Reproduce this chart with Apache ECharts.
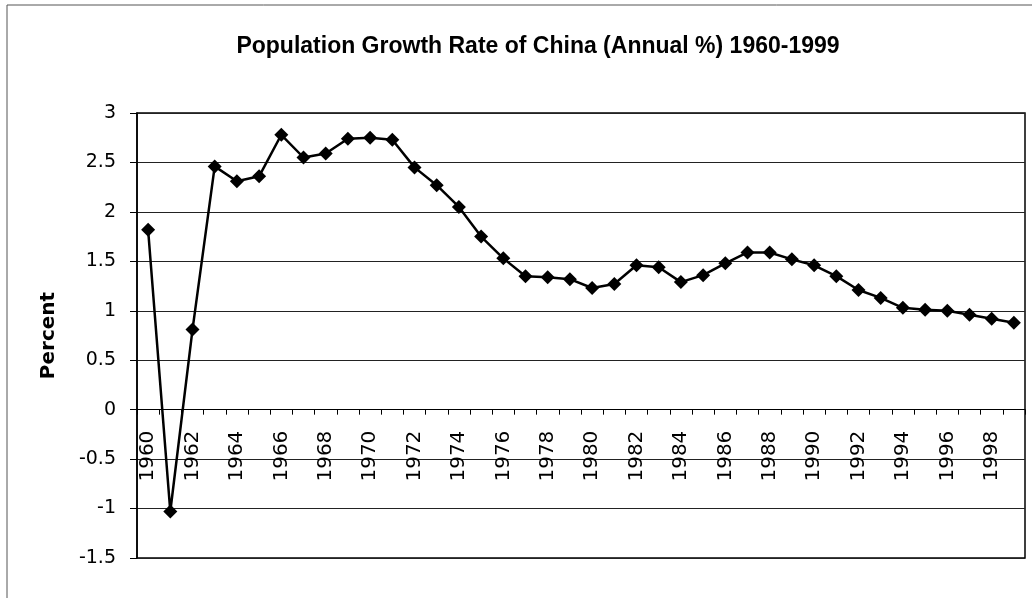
<!DOCTYPE html>
<html>
<head>
<meta charset="utf-8">
<script src="https://cdn.jsdelivr.net/npm/echarts@6/dist/echarts.min.js"></script>
<style>
html,body{margin:0;padding:0;background:#fff;}
#chart{width:1032px;height:598px;}
</style>
</head>
<body>
<div id="chart"></div>
<script>
const years = ['1960','1961','1962','1963','1964','1965','1966','1967','1968','1969',
  '1970','1971','1972','1973','1974','1975','1976','1977','1978','1979',
  '1980','1981','1982','1983','1984','1985','1986','1987','1988','1989',
  '1990','1991','1992','1993','1994','1995','1996','1997','1998','1999'];
const growthRate = [1.82,-1.03,0.81,2.46,2.31,2.36,2.78,2.55,2.59,2.74,
  2.75,2.73,2.45,2.27,2.05,1.75,1.53,1.35,1.34,1.32,
  1.23,1.27,1.46,1.44,1.29,1.36,1.48,1.59,1.59,1.52,
  1.46,1.35,1.21,1.13,1.03,1.01,1.00,0.96,0.92,0.88];
const titleText = 'Population Growth Rate of China (Annual %) 1960-1999';
const yAxisTitle = 'Percent';

const gridTop = 113, gridBottom = 40, H = 598;
const yMin = -1.5, yMax = 3;
// place x axis at value 0 via offset
const plotH = H - gridTop - gridBottom;
const zeroOffset = -plotH * (0 - yMin) / (yMax - yMin);

const chart = echarts.init(document.getElementById('chart'), null, {renderer:'canvas'});
chart.setOption({
  animation: false,
  backgroundColor: '#fff',
  title: {
    text: titleText,
    left: 533, top: 30, textAlign: 'center',
    textStyle: {fontFamily: 'Liberation Sans', fontWeight: 'bold', fontSize: 23, color: '#000'}
  },
  graphic: [{
    type: 'rect', shape: {x: 7, y: 5, width: 1040, height: 620},
    style: {fill: 'none', stroke: '#555', lineWidth: 1}, silent: true
  }],
  grid: {left: 137, right: 7, top: gridTop, bottom: gridBottom, containLabel: false, outerBoundsMode: 'none',
    show: true, borderColor: '#000', borderWidth: 1.5},
  xAxis: {
    type: 'category', data: years, boundaryGap: true, position: 'bottom', offset: zeroOffset,
    axisLine: {onZero: false, lineStyle: {color: '#000', width: 1.2}},
    axisTick: {show: true, interval: 0, length: 5, lineStyle: {color: '#000'}},
    axisLabel: {interval: 1, rotate: 90, margin: 21, color: '#000', fontFamily: 'DejaVu Sans', fontSize: 20},
    splitLine: {show: false}
  },
  yAxis: {
    type: 'value', min: yMin, max: yMax, interval: 0.5,
    name: yAxisTitle, nameLocation: 'middle', nameGap: 78, nameRotate: 90,
    nameTextStyle: {fontFamily: 'DejaVu Sans', fontWeight: 'bold', fontSize: 20, color: '#000'},
    axisLine: {show: true, lineStyle: {color: '#000', width: 1.5}},
    axisTick: {show: true, length: 7, lineStyle: {color: '#000'}},
    axisLabel: {margin: 21, color: '#000', fontFamily: 'DejaVu Sans', fontSize: 19},
    splitLine: {show: true, lineStyle: {color: '#222', width: 1}}
  },
  series: [{
    type: 'line', data: growthRate,
    symbol: 'diamond', symbolSize: 14,
    itemStyle: {color: '#000'},
    lineStyle: {color: '#000', width: 2.5}
  }]
});
</script>
</body>
</html>
